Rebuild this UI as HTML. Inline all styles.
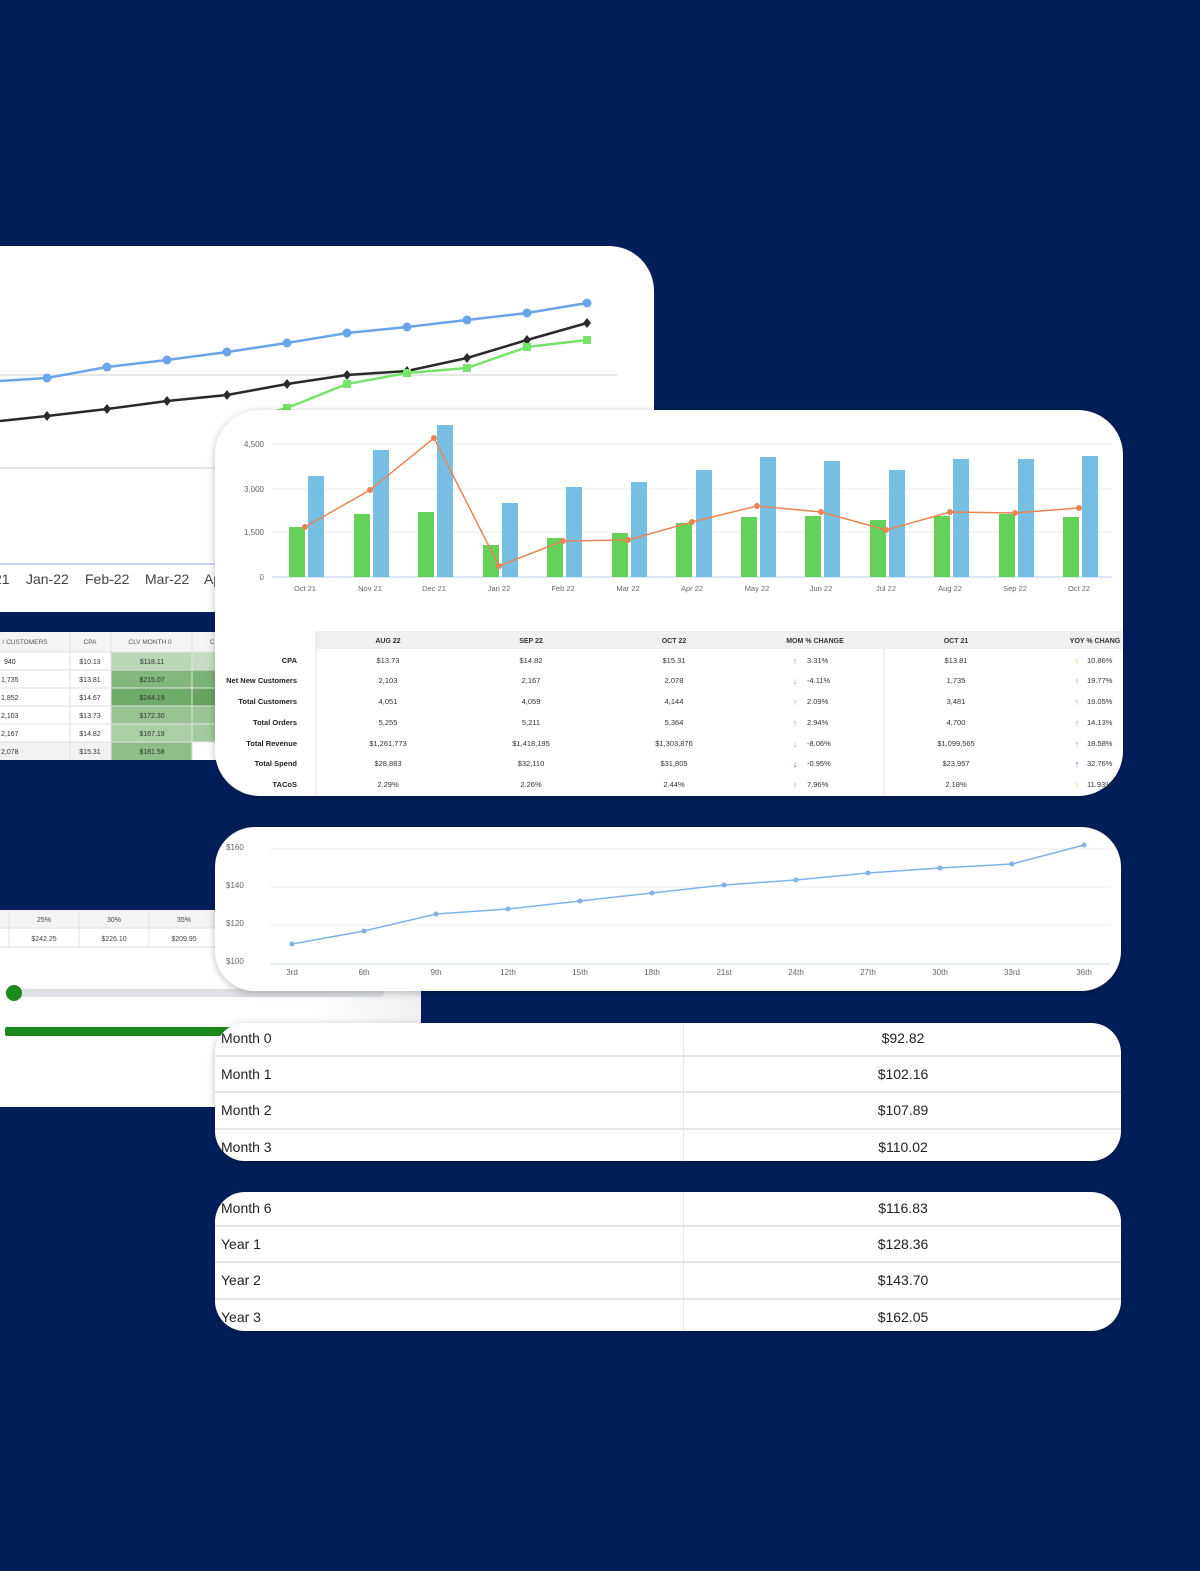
<!DOCTYPE html>
<html><head><meta charset="utf-8"><style>
html,body{margin:0;padding:0;background:#021f5a;}
svg{display:block}
text{font-family:"Liberation Sans",sans-serif}
</style></head><body>
<svg width="1200" height="1571" viewBox="0 0 1200 1571" xmlns="http://www.w3.org/2000/svg">
<rect width="1200" height="1571" fill="#021f5a"/>
<defs>
<filter id="sh" x="-5%" y="-10%" width="110%" height="120%"><feDropShadow dx="0" dy="2" stdDeviation="4" flood-color="#000" flood-opacity="0.25"/></filter>
<linearGradient id="fade" x1="0" x2="1"><stop offset="0" stop-color="#fff"/><stop offset="0.75" stop-color="#fff"/><stop offset="1" stop-color="#eef0f2"/></linearGradient>
</defs>

<!-- Card A -->
<path d="M0 246 H609 A45 45 0 0 1 654 291 V612 H0 Z" fill="#fff"/>
<line x1="0" y1="375" x2="617" y2="375" stroke="#e6e6e6" stroke-width="2"/>
<line x1="0" y1="468" x2="617" y2="468" stroke="#e6e6e6" stroke-width="2"/>
<line x1="0" y1="564" x2="617" y2="564" stroke="#c7d6ee" stroke-width="2"/>
<polyline fill="none" stroke="#6aa5ea" stroke-width="2.5" points="0,381 47,378 107,367 167,360 227,352 287,343 347,333 407,327 467,320 527,313 587,303"/>
<g fill="#6aa5ea"><circle cx="47" cy="378" r="4.5"/><circle cx="107" cy="367" r="4.5"/><circle cx="167" cy="360" r="4.5"/><circle cx="227" cy="352" r="4.5"/><circle cx="287" cy="343" r="4.5"/><circle cx="347" cy="333" r="4.5"/><circle cx="407" cy="327" r="4.5"/><circle cx="467" cy="320" r="4.5"/><circle cx="527" cy="313" r="4.5"/><circle cx="587" cy="303" r="4.5"/></g>
<polyline fill="none" stroke="#2a2a2a" stroke-width="2.5" points="0,421 47,416 107,409 167,401 227,395 287,384 347,375 407,371 467,358 527,340 587,323"/>
<g fill="#2a2a2a"><path d="M47 411l4 5-4 5-4-5z"/><path d="M107 404l4 5-4 5-4-5z"/><path d="M167 396l4 5-4 5-4-5z"/><path d="M227 390l4 5-4 5-4-5z"/><path d="M287 379l4 5-4 5-4-5z"/><path d="M347 370l4 5-4 5-4-5z"/><path d="M407 366l4 5-4 5-4-5z"/><path d="M467 353l4 5-4 5-4-5z"/><path d="M527 335l4 5-4 5-4-5z"/><path d="M587 318l4 5-4 5-4-5z"/></g>
<polyline fill="none" stroke="#77e36b" stroke-width="2.5" points="227,425 287,408 347,384 407,373 467,368 527,347 587,340"/>
<g fill="#77e36b"><rect x="283" y="404" width="8" height="8"/><rect x="343" y="380" width="8" height="8"/><rect x="403" y="369" width="8" height="8"/><rect x="463" y="364" width="8" height="8"/><rect x="523" y="343" width="8" height="8"/><rect x="583" y="336" width="8" height="8"/></g>
<g font-size="14" fill="#444"><text x="-6" y="584">21</text><text x="26" y="584">Jan-22</text><text x="85" y="584">Feb-22</text><text x="145" y="584">Mar-22</text><text x="204" y="584">Ap</text></g>

<!-- left table strip -->
<rect x="0" y="632" width="230" height="128" fill="#fff"/>
<rect x="0" y="632" width="230" height="20" fill="#f4f4f4"/>
<rect x="111" y="652" width="81" height="18" fill="#b9d6b5"/><rect x="192" y="652" width="40" height="18" fill="#c6dcc2"/>
<rect x="111" y="670" width="81" height="18" fill="#82b87c"/><rect x="192" y="670" width="40" height="18" fill="#7bb275"/>
<rect x="111" y="688" width="81" height="18" fill="#6fab68"/><rect x="192" y="688" width="40" height="18" fill="#68a460"/>
<rect x="111" y="706" width="81" height="18" fill="#97c491"/><rect x="192" y="706" width="40" height="18" fill="#9bc595"/>
<rect x="111" y="724" width="81" height="18" fill="#aacfa5"/><rect x="192" y="724" width="40" height="18" fill="#a3c99e"/>
<rect x="0" y="742" width="111" height="18" fill="#f2f2f2"/><rect x="111" y="742" width="81" height="18" fill="#8fbf89"/>
<g stroke="#e2e2e2" stroke-width="1"><line x1="0" y1="652" x2="230" y2="652"/><line x1="0" y1="670" x2="230" y2="670"/><line x1="0" y1="688" x2="230" y2="688"/><line x1="0" y1="706" x2="230" y2="706"/><line x1="0" y1="724" x2="230" y2="724"/><line x1="0" y1="742" x2="230" y2="742"/><line x1="70" y1="632" x2="70" y2="760"/><line x1="111" y1="632" x2="111" y2="760"/><line x1="192" y1="632" x2="192" y2="760"/></g>
<g font-size="6.5" fill="#555" text-anchor="middle"><text x="25" y="644">/ CUSTOMERS</text><text x="90" y="644">CPA</text><text x="150" y="644">CLV MONTH 0</text><text x="214" y="644">CL</text></g>
<g font-size="7" fill="#333"><text x="4" y="664">940</text><text x="1" y="682">1,735</text><text x="1" y="700">1,852</text><text x="1" y="718">2,103</text><text x="1" y="736">2,167</text><text x="1" y="754">2,078</text></g>
<g font-size="7" fill="#333" text-anchor="middle"><text x="90" y="664">$10.13</text><text x="90" y="682">$13.81</text><text x="90" y="700">$14.67</text><text x="90" y="718">$13.73</text><text x="90" y="736">$14.82</text><text x="90" y="754">$15.31</text>
<text x="152" y="664">$118.11</text><text x="152" y="682">$215.07</text><text x="152" y="700">$244.19</text><text x="152" y="718">$172.30</text><text x="152" y="736">$167.19</text><text x="152" y="754">$181.58</text></g>

<!-- Card B -->
<rect x="215" y="410" width="908" height="386" rx="45" fill="#fff" filter="url(#sh)"/>
<g stroke="#ececec" stroke-width="1"><line x1="272" y1="444" x2="1112" y2="444"/><line x1="272" y1="489" x2="1112" y2="489"/><line x1="272" y1="532" x2="1112" y2="532"/></g>
<line x1="272" y1="577" x2="1112" y2="577" stroke="#cfdcee" stroke-width="1.5"/>
<g font-size="8" fill="#666" text-anchor="end"><text x="264" y="447">4,500</text><text x="264" y="492">3,000</text><text x="264" y="535">1,500</text><text x="264" y="580">0</text></g>
<g fill="#63d15a">
<rect x="289" y="527" width="16" height="50"/><rect x="354" y="514" width="16" height="63"/><rect x="418" y="512" width="16" height="65"/><rect x="483" y="545" width="16" height="32"/><rect x="547" y="538" width="16" height="39"/><rect x="612" y="533" width="16" height="44"/><rect x="676" y="523" width="16" height="54"/><rect x="741" y="517" width="16" height="60"/><rect x="805" y="516" width="16" height="61"/><rect x="870" y="520" width="16" height="57"/><rect x="934" y="516" width="16" height="61"/><rect x="999" y="514" width="16" height="63"/><rect x="1063" y="517" width="16" height="60"/></g>
<g fill="#76bfe2">
<rect x="308" y="476" width="16" height="101"/><rect x="373" y="450" width="16" height="127"/><rect x="437" y="425" width="16" height="152"/><rect x="502" y="503" width="16" height="74"/><rect x="566" y="487" width="16" height="90"/><rect x="631" y="482" width="16" height="95"/><rect x="696" y="470" width="16" height="107"/><rect x="760" y="457" width="16" height="120"/><rect x="824" y="461" width="16" height="116"/><rect x="889" y="470" width="16" height="107"/><rect x="953" y="459" width="16" height="118"/><rect x="1018" y="459" width="16" height="118"/><rect x="1082" y="456" width="16" height="121"/></g>
<polyline fill="none" stroke="#ea8452" stroke-width="1.5" points="305,527 370,490 434,438 499,566 563,541 628,540 692,522 757,506 821,512 886,530 950,512 1015,513 1079,508"/>
<g fill="#ea8452"><circle cx="305" cy="527" r="3"/><circle cx="370" cy="490" r="3"/><circle cx="434" cy="438" r="3"/><circle cx="499" cy="566" r="3"/><circle cx="563" cy="541" r="3"/><circle cx="628" cy="540" r="3"/><circle cx="692" cy="522" r="3"/><circle cx="757" cy="506" r="3"/><circle cx="821" cy="512" r="3"/><circle cx="886" cy="530" r="3"/><circle cx="950" cy="512" r="3"/><circle cx="1015" cy="513" r="3"/><circle cx="1079" cy="508" r="3"/></g>
<g font-size="7.5" fill="#666" text-anchor="middle"><text x="305" y="591">Oct 21</text><text x="370" y="591">Nov 21</text><text x="434" y="591">Dec 21</text><text x="499" y="591">Jan 22</text><text x="563" y="591">Feb 22</text><text x="628" y="591">Mar 22</text><text x="692" y="591">Apr 22</text><text x="757" y="591">May 22</text><text x="821" y="591">Jun 22</text><text x="886" y="591">Jul 22</text><text x="950" y="591">Aug 22</text><text x="1015" y="591">Sep 22</text><text x="1079" y="591">Oct 22</text></g>
<rect x="316" y="631" width="807" height="18" fill="#f0f0f0"/>
<line x1="316" y1="631" x2="316" y2="795" stroke="#e4e4e4"/>
<line x1="884" y1="649" x2="884" y2="795" stroke="#e4e4e4"/>
<g font-size="7" fill="#333" text-anchor="middle" font-weight="bold"><text x="388" y="643">AUG 22</text><text x="531" y="643">SEP 22</text><text x="674" y="643">OCT 22</text><text x="815" y="643">MOM % CHANGE</text><text x="956" y="643">OCT 21</text><text x="1095" y="643">YOY % CHANG</text></g>
<g font-size="7.5" fill="#222" text-anchor="end" font-weight="bold"><text x="297" y="663">CPA</text><text x="297" y="683">Net New Customers</text><text x="297" y="704">Total Customers</text><text x="297" y="725">Total Orders</text><text x="297" y="746">Total Revenue</text><text x="297" y="766">Total Spend</text><text x="297" y="787">TACoS</text></g>
<g font-size="7.5" fill="#333" text-anchor="middle">
<text x="388" y="663">$13.73</text><text x="531" y="663">$14.82</text><text x="674" y="663">$15.31</text><text x="956" y="663">$13.81</text>
<text x="388" y="683">2,103</text><text x="531" y="683">2,167</text><text x="674" y="683">2,078</text><text x="956" y="683">1,735</text>
<text x="388" y="704">4,051</text><text x="531" y="704">4,059</text><text x="674" y="704">4,144</text><text x="956" y="704">3,481</text>
<text x="388" y="725">5,255</text><text x="531" y="725">5,211</text><text x="674" y="725">5,364</text><text x="956" y="725">4,700</text>
<text x="388" y="746">$1,261,773</text><text x="531" y="746">$1,418,195</text><text x="674" y="746">$1,303,876</text><text x="956" y="746">$1,099,565</text>
<text x="388" y="766">$28,883</text><text x="531" y="766">$32,110</text><text x="674" y="766">$31,805</text><text x="956" y="766">$23,957</text>
<text x="388" y="787">2.29%</text><text x="531" y="787">2.26%</text><text x="674" y="787">2.44%</text><text x="956" y="787">2.18%</text></g>
<g font-size="7.5" fill="#333"><text x="807" y="663">3.31%</text><text x="807" y="683">-4.11%</text><text x="807" y="704">2.09%</text><text x="807" y="725">2.94%</text><text x="807" y="746">-8.06%</text><text x="807" y="766">-0.95%</text><text x="807" y="787">7.96%</text>
<text x="1087" y="663">10.86%</text><text x="1087" y="683">19.77%</text><text x="1087" y="704">19.05%</text><text x="1087" y="725">14.13%</text><text x="1087" y="746">18.58%</text><text x="1087" y="766">32.76%</text><text x="1087" y="787">11.93%</text></g>
<g font-size="9" text-anchor="middle"><text x="795" y="664" fill="#7cc06a">↑</text><text x="795" y="684" fill="#7cc06a">↓</text><text x="795" y="705" fill="#7cc06a">↑</text><text x="795" y="726" fill="#7cc06a">↑</text><text x="795" y="747" fill="#7cc06a">↓</text><text x="795" y="767" fill="#2a5bd0">↓</text><text x="795" y="788" fill="#7cc06a">↑</text>
<text x="1077" y="664" fill="#f2c12e">↑</text><text x="1077" y="684" fill="#7cc06a">↑</text><text x="1077" y="705" fill="#7cc06a">↑</text><text x="1077" y="726" fill="#7cc06a">↑</text><text x="1077" y="747" fill="#7cc06a">↑</text><text x="1077" y="767" fill="#2a5bd0">↑</text><text x="1077" y="788" fill="#f2c12e">↑</text></g>

<!-- Left panel D -->
<rect x="0" y="910" width="421" height="197" fill="url(#fade)"/>
<rect x="0" y="910" width="230" height="18" fill="#f4f4f4"/>
<g stroke="#e2e2e2"><line x1="0" y1="928" x2="230" y2="928"/><line x1="0" y1="947" x2="230" y2="947"/><line x1="9" y1="910" x2="9" y2="947"/><line x1="79" y1="910" x2="79" y2="947"/><line x1="149" y1="910" x2="149" y2="947"/><line x1="219" y1="910" x2="219" y2="947"/></g>
<g font-size="7" fill="#444" text-anchor="middle"><text x="44" y="922">25%</text><text x="114" y="922">30%</text><text x="184" y="922">35%</text><text x="44" y="941">$242.25</text><text x="114" y="941">$226.10</text><text x="184" y="941">$209.95</text></g>
<rect x="5" y="989" width="379" height="8" rx="4" fill="#dde0e5"/>
<circle cx="14" cy="993" r="8" fill="#1a8a1a"/>
<rect x="5" y="1027" width="240" height="9" rx="2" fill="#1a8a1a"/>

<!-- Card C -->
<rect x="215" y="827" width="906" height="164" rx="40" fill="#fff" filter="url(#sh)"/>
<g stroke="#ececec"><line x1="270" y1="849" x2="1110" y2="849"/><line x1="270" y1="887" x2="1110" y2="887"/><line x1="270" y1="925" x2="1110" y2="925"/></g>
<line x1="270" y1="964" x2="1110" y2="964" stroke="#cfdcee"/>
<g font-size="8" fill="#666"><text x="226" y="850">$160</text><text x="226" y="888">$140</text><text x="226" y="926">$120</text><text x="226" y="964">$100</text></g>
<polyline fill="none" stroke="#7fb2ea" stroke-width="1.5" points="292,944 364,931 436,914 508,909 580,901 652,893 724,885 796,880 868,873 940,868 1012,864 1084,845"/>
<g fill="#7fb2ea"><circle cx="292" cy="944" r="2.5"/><circle cx="364" cy="931" r="2.5"/><circle cx="436" cy="914" r="2.5"/><circle cx="508" cy="909" r="2.5"/><circle cx="580" cy="901" r="2.5"/><circle cx="652" cy="893" r="2.5"/><circle cx="724" cy="885" r="2.5"/><circle cx="796" cy="880" r="2.5"/><circle cx="868" cy="873" r="2.5"/><circle cx="940" cy="868" r="2.5"/><circle cx="1012" cy="864" r="2.5"/><circle cx="1084" cy="845" r="2.5"/></g>
<g font-size="8" fill="#666" text-anchor="middle"><text x="292" y="975">3rd</text><text x="364" y="975">6th</text><text x="436" y="975">9th</text><text x="508" y="975">12th</text><text x="580" y="975">15th</text><text x="652" y="975">18th</text><text x="724" y="975">21st</text><text x="796" y="975">24th</text><text x="868" y="975">27th</text><text x="940" y="975">30th</text><text x="1012" y="975">33rd</text><text x="1084" y="975">36th</text></g>

<!-- Card E -->
<rect x="215" y="1023" width="906" height="138" rx="30" fill="#fff" filter="url(#sh)"/>
<g fill="#e6e6e6"><rect x="215" y="1055" width="906" height="2"/><rect x="215" y="1091" width="906" height="2"/><rect x="215" y="1128" width="906" height="2"/><rect x="683" y="1023" width="1" height="138"/></g>
<g font-size="14" fill="#222"><text x="221" y="1043">Month 0</text><text x="221" y="1079">Month 1</text><text x="221" y="1115">Month 2</text><text x="221" y="1152">Month 3</text></g>
<g font-size="14" fill="#222" text-anchor="middle"><text x="903" y="1043">$92.82</text><text x="903" y="1079">$102.16</text><text x="903" y="1115">$107.89</text><text x="903" y="1152">$110.02</text></g>

<!-- Card F -->
<rect x="215" y="1192" width="906" height="139" rx="30" fill="#fff" filter="url(#sh)"/>
<g fill="#e6e6e6"><rect x="215" y="1225" width="906" height="2"/><rect x="215" y="1261" width="906" height="2"/><rect x="215" y="1298" width="906" height="2"/><rect x="683" y="1192" width="1" height="139"/></g>
<g font-size="14" fill="#222"><text x="221" y="1213">Month 6</text><text x="221" y="1249">Year 1</text><text x="221" y="1285">Year 2</text><text x="221" y="1322">Year 3</text></g>
<g font-size="14" fill="#222" text-anchor="middle"><text x="903" y="1213">$116.83</text><text x="903" y="1249">$128.36</text><text x="903" y="1285">$143.70</text><text x="903" y="1322">$162.05</text></g>
</svg>
</body></html>
